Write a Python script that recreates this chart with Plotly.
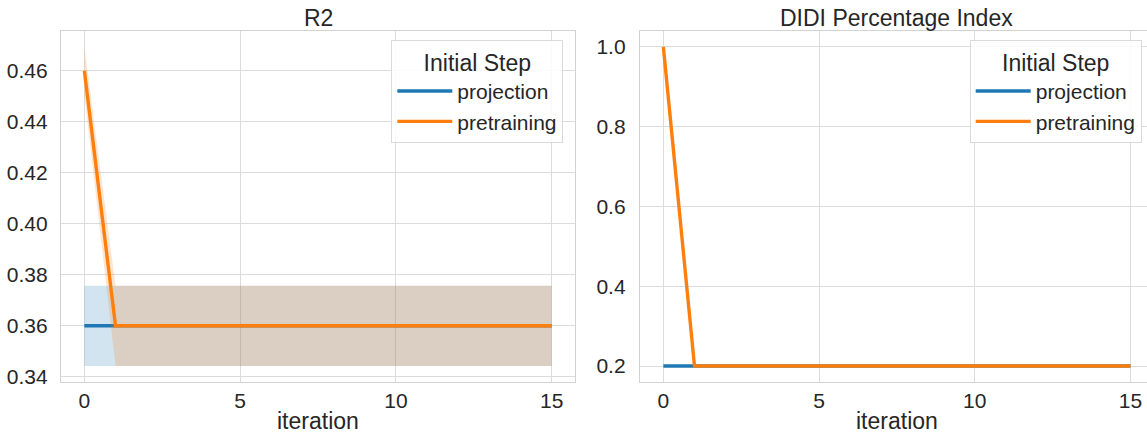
import plotly.graph_objects as go

# ---------------- data ----------------
iterations = [0, 1, 2, 3, 4, 5, 6, 7, 8, 9, 10, 11, 12, 13, 14, 15]

r2_projection_mean = [0.3600, 0.3600, 0.3600, 0.3600, 0.3600, 0.3600, 0.3600, 0.3600,
                      0.3600, 0.3600, 0.3600, 0.3600, 0.3600, 0.3600, 0.3600, 0.3600]
r2_projection_low = [0.3442, 0.3442, 0.3442, 0.3442, 0.3442, 0.3442, 0.3442, 0.3442,
                     0.3442, 0.3442, 0.3442, 0.3442, 0.3442, 0.3442, 0.3442, 0.3442]
r2_projection_high = [0.3757, 0.3757, 0.3757, 0.3757, 0.3757, 0.3757, 0.3757, 0.3757,
                      0.3757, 0.3757, 0.3757, 0.3757, 0.3757, 0.3757, 0.3757, 0.3757]

r2_pretraining_mean = [0.4600, 0.3600, 0.3600, 0.3600, 0.3600, 0.3600, 0.3600, 0.3600,
                       0.3600, 0.3600, 0.3600, 0.3600, 0.3600, 0.3600, 0.3600, 0.3600]
r2_pretraining_low = [0.4506, 0.3442, 0.3442, 0.3442, 0.3442, 0.3442, 0.3442, 0.3442,
                      0.3442, 0.3442, 0.3442, 0.3442, 0.3442, 0.3442, 0.3442, 0.3442]
r2_pretraining_high = [0.4694, 0.3757, 0.3757, 0.3757, 0.3757, 0.3757, 0.3757, 0.3757,
                       0.3757, 0.3757, 0.3757, 0.3757, 0.3757, 0.3757, 0.3757, 0.3757]

didi_projection = [0.2, 0.2, 0.2, 0.2, 0.2, 0.2, 0.2, 0.2,
                   0.2, 0.2, 0.2, 0.2, 0.2, 0.2, 0.2, 0.2]
didi_pretraining = [1.0, 0.2, 0.2, 0.2, 0.2, 0.2, 0.2, 0.2,
                    0.2, 0.2, 0.2, 0.2, 0.2, 0.2, 0.2, 0.2]

series_names = ["projection", "pretraining"]
subplot_titles = ["R2", "DIDI Percentage Index"]
x_label = "iteration"
legend_title = "Initial Step"
x_ticks = [0, 5, 10, 15]
r2_ticks = [0.34, 0.36, 0.38, 0.40, 0.42, 0.44, 0.46]
didi_ticks = [0.2, 0.4, 0.6, 0.8, 1.0]

# ---------------- style ----------------
BLUE = "#1f77b4"
ORANGE = "#ff7f0e"
BLUE_FILL = "rgba(31,119,180,0.2)"
ORANGE_FILL = "rgba(255,127,14,0.2)"
TEXT = "#262626"
GRID = "#dcdcdc"
FONT = "Liberation Sans, Arial, sans-serif"
LW = 3.4

fig = go.Figure()


def band(x, low, high, fill, xa, ya):
    fig.add_trace(go.Scatter(x=x, y=high, mode="lines", line=dict(width=0, color=fill),
                             showlegend=False, hoverinfo="skip", xaxis=xa, yaxis=ya))
    fig.add_trace(go.Scatter(x=x, y=low, mode="lines", line=dict(width=0, color=fill),
                             fill="tonexty", fillcolor=fill, showlegend=False,
                             hoverinfo="skip", xaxis=xa, yaxis=ya))


# R2 subplot
band(iterations, r2_projection_low, r2_projection_high, BLUE_FILL, "x", "y")
fig.add_trace(go.Scatter(x=iterations, y=r2_projection_mean, mode="lines", name=series_names[0],
                         legendgroup="a", line=dict(color=BLUE, width=LW),
                         xaxis="x", yaxis="y", legend="legend"))
band(iterations, r2_pretraining_low, r2_pretraining_high, ORANGE_FILL, "x", "y")
fig.add_trace(go.Scatter(x=iterations, y=r2_pretraining_mean, mode="lines", name=series_names[1],
                         legendgroup="b", line=dict(color=ORANGE, width=LW),
                         xaxis="x", yaxis="y", legend="legend"))

# DIDI subplot
fig.add_trace(go.Scatter(x=iterations, y=didi_projection, mode="lines", name=series_names[0],
                         legendgroup="c", line=dict(color=BLUE, width=LW),
                         xaxis="x2", yaxis="y2", legend="legend2"))
fig.add_trace(go.Scatter(x=iterations, y=didi_pretraining, mode="lines", name=series_names[1],
                         legendgroup="d", line=dict(color=ORANGE, width=LW),
                         xaxis="x2", yaxis="y2", legend="legend2"))

W, H = 1147, 436
L, R, T, B = 61, 0, 31, 54
pw = W - L - R
ph = H - T - B


def px_x(p):
    return (p - L) / pw


def px_y(p):
    return (H - B - p) / ph


x1_dom = [0.0, px_x(575)]
x2_dom = [px_x(640), 1.0]

axis_common = dict(showgrid=True, gridcolor=GRID, gridwidth=1, zeroline=False,
                   showline=True, linecolor="#d2d2d2", linewidth=1.3, mirror=True,
                   ticks="", automargin=False,
                   tickfont=dict(size=21, color=TEXT, family=FONT))

legend_common = dict(
    bgcolor="rgba(255,255,255,0.85)", bordercolor="#dadada", borderwidth=1,
    font=dict(size=21, color=TEXT, family=FONT),
    title=dict(text=legend_title, side="top center",
               font=dict(size=23, color=TEXT, family=FONT)),
    xanchor="right", yanchor="top", tracegroupgap=5, itemwidth=55,
    traceorder="normal",
)

title_font = dict(size=23, color=TEXT, family=FONT)

fig.update_layout(
    width=W, height=H,
    margin=dict(l=L, r=R, t=T, b=B, pad=0),
    paper_bgcolor="white", plot_bgcolor="white",
    font=dict(family=FONT, color=TEXT, size=21),
    xaxis=dict(domain=x1_dom, anchor="y", range=[-0.75, 15.75], tickvals=x_ticks,
               ticklabelstandoff=0, **axis_common),
    yaxis=dict(domain=[0, 1], anchor="x", range=[0.33795, 0.47555], tickvals=r2_ticks,
               tickformat=".2f", ticklabelstandoff=8, **axis_common),
    xaxis2=dict(domain=x2_dom, anchor="y2", range=[-0.75, 15.53], tickvals=x_ticks,
                ticklabelstandoff=0, **axis_common),
    yaxis2=dict(domain=[0, 1], anchor="x2", range=[0.16, 1.04], tickvals=didi_ticks,
                tickformat=".1f", ticklabelstandoff=9, **axis_common),
    legend=dict(x=px_x(563.3), y=px_y(40), **legend_common),
    legend2=dict(x=px_x(1141.7), y=px_y(40), **legend_common),
    showlegend=True,
    annotations=[
        dict(text=subplot_titles[0], xref="paper", yref="paper",
             x=px_x((61 + 575) / 2), y=px_y(18), xanchor="center", yanchor="middle",
             showarrow=False, font=title_font),
        dict(text=subplot_titles[1], xref="paper", yref="paper",
             x=px_x((640 + 1153.4) / 2), y=px_y(18), xanchor="center", yanchor="middle",
             showarrow=False, font=title_font),
        dict(text=x_label, xref="paper", yref="paper",
             x=px_x((61 + 575) / 2), y=px_y(421), xanchor="center", yanchor="middle",
             showarrow=False, font=title_font),
        dict(text=x_label, xref="paper", yref="paper",
             x=px_x((640 + 1153.4) / 2), y=px_y(421), xanchor="center", yanchor="middle",
             showarrow=False, font=title_font),
    ],
)

fig.write_html("out.html", config={"displayModeBar": False},
               post_script="document.body.style.margin='0';document.body.style.overflow='hidden';")
